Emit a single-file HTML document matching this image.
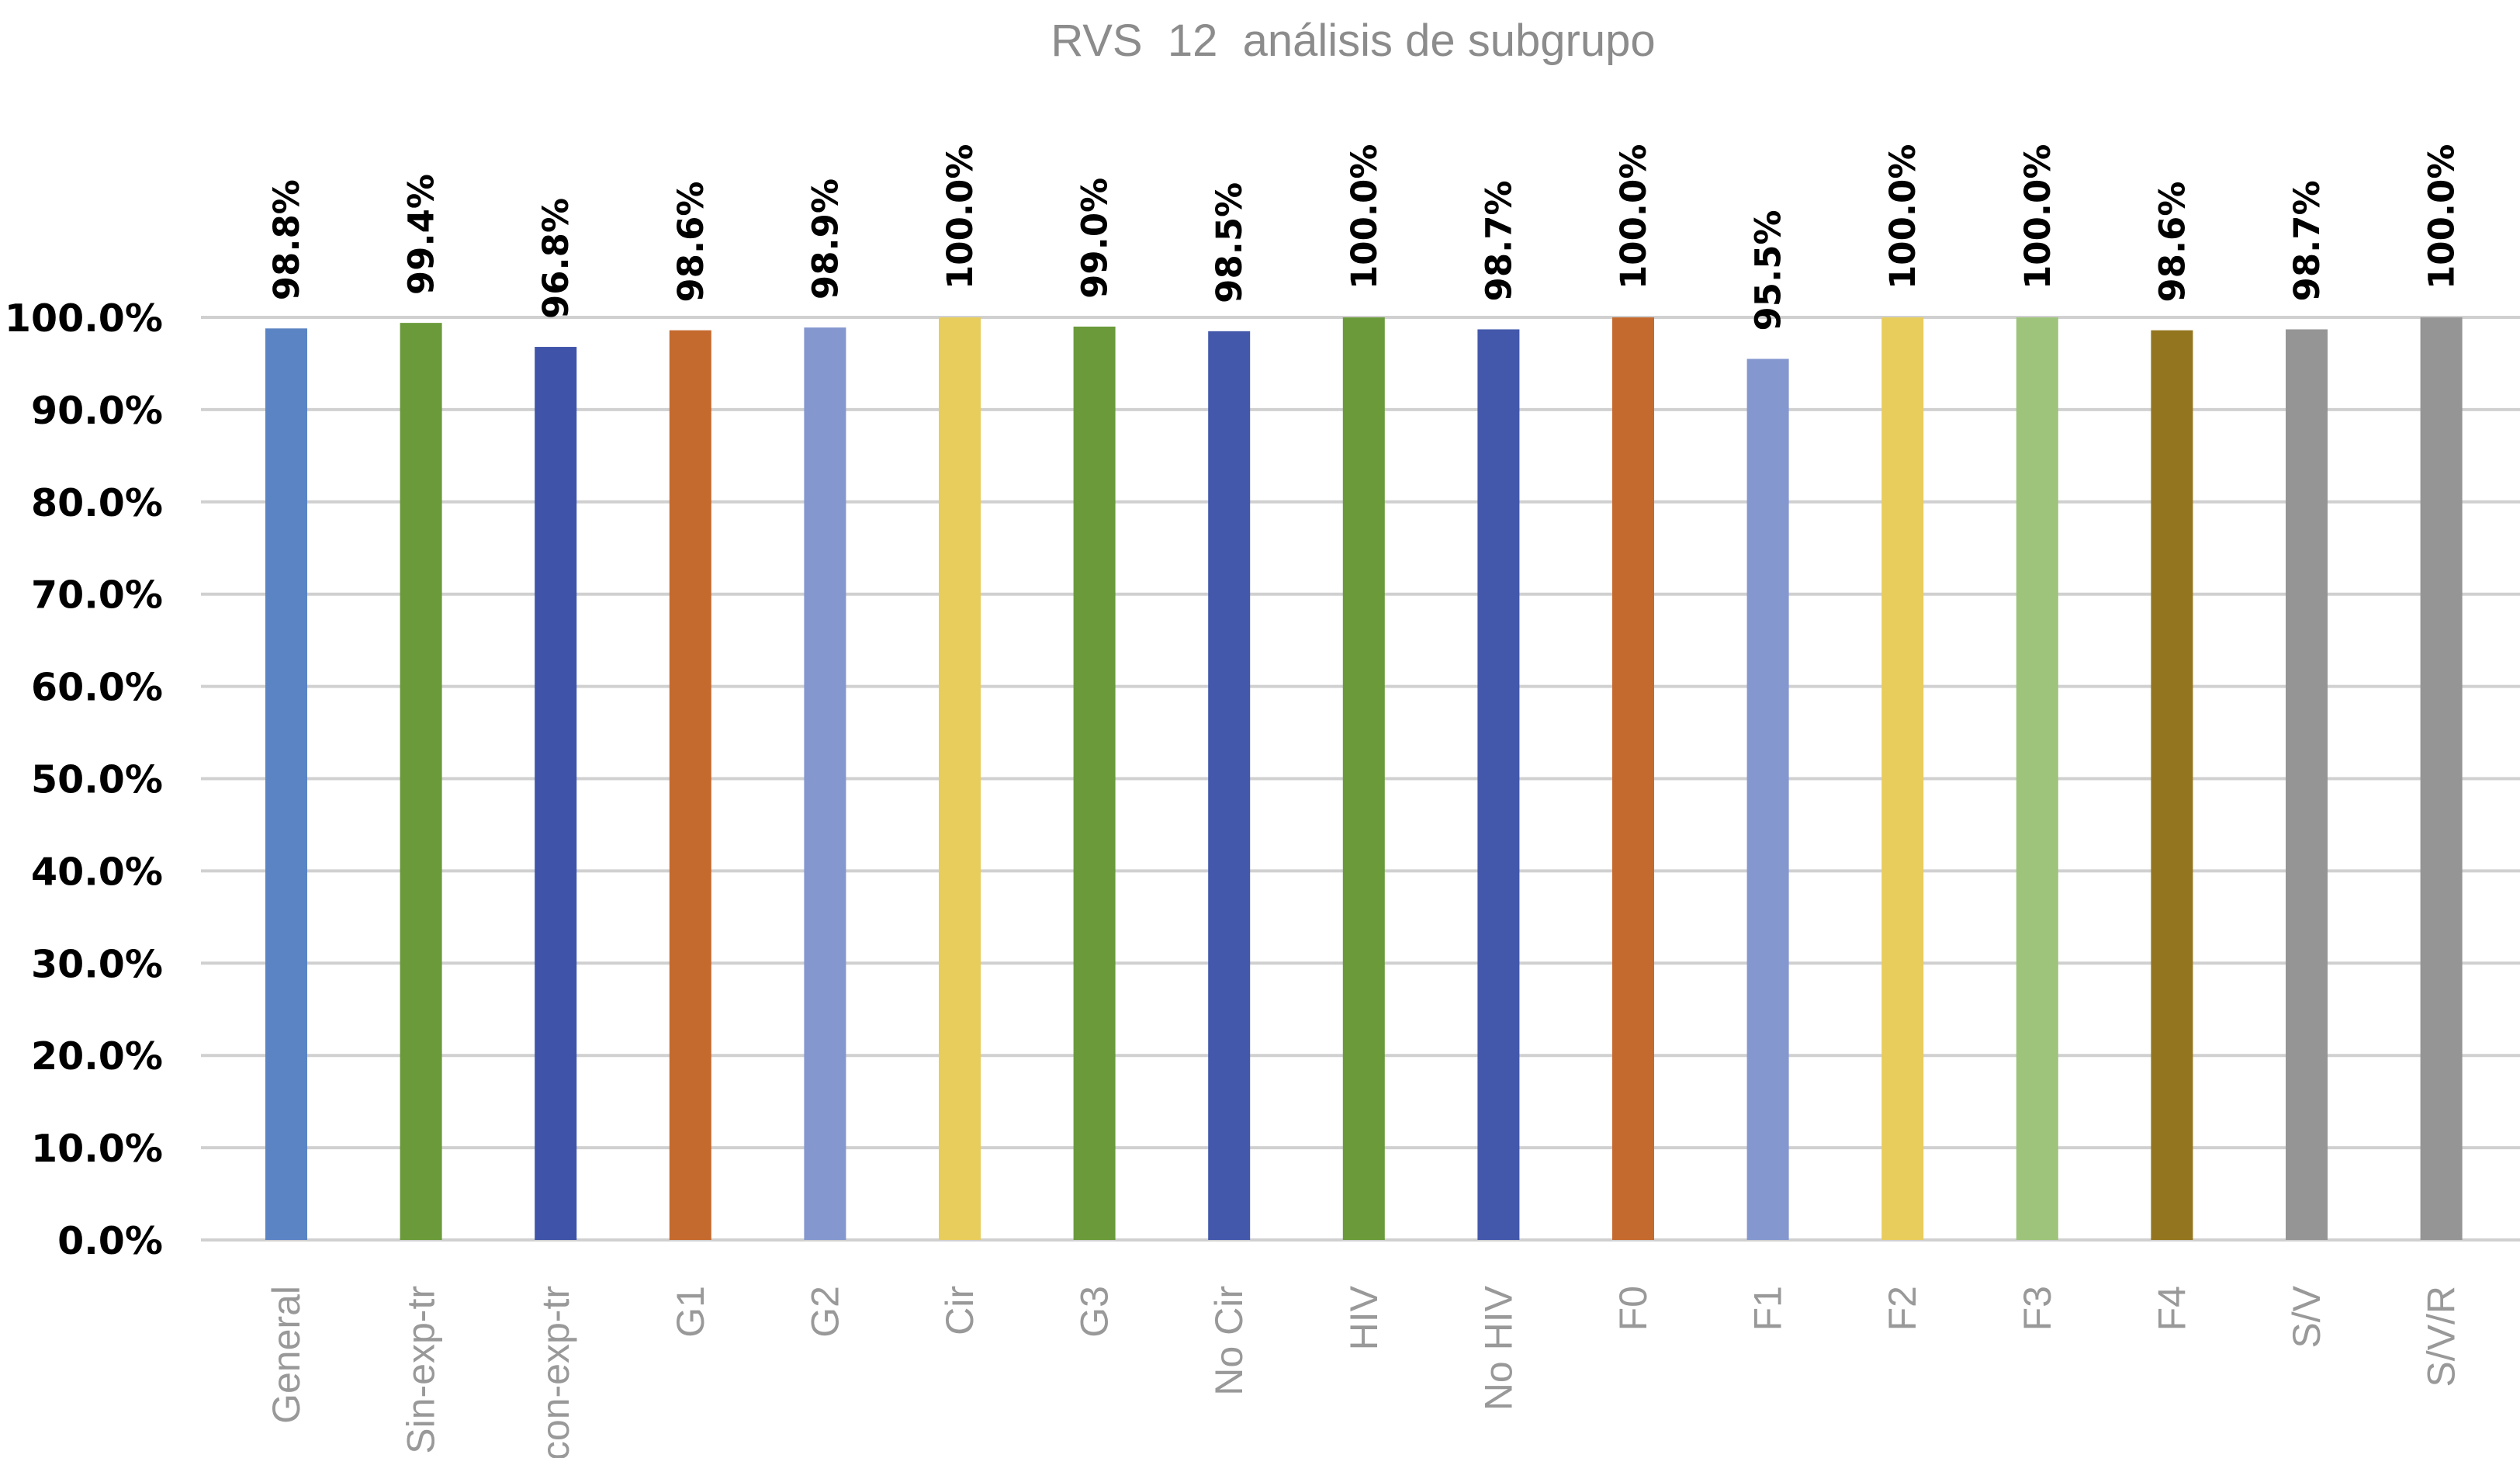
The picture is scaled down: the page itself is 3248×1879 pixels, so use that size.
<!DOCTYPE html>
<html><head><meta charset="utf-8"><style>
html,body{margin:0;padding:0;background:#fff;}
svg{display:block;}
</style></head><body>
<svg id="chart" width="3248" height="1879" viewBox="0 0 3248 1879" xmlns="http://www.w3.org/2000/svg">
<rect width="3248" height="1879" fill="#fff"/>
<text x="1744" y="72" text-anchor="middle" font-family="Liberation Sans, sans-serif" font-size="58" fill="#8c8c8c" style="white-space:pre" xml:space="preserve">RVS  12  análisis de subgrupo</text>
<g id="grid"></g><g id="bars"></g><g id="labels"></g>
</svg>
<script>
const categories = ["General","Sin-exp-tr","con-exp-tr","G1","G2","Cir","G3","No Cir","HIV","No HIV","F0","F1","F2","F3","F4","S/V","S/V/R"];
const values = [98.8,99.4,96.8,98.6,98.9,100.0,99.0,98.5,100.0,98.7,100.0,95.5,100.0,100.0,98.6,98.7,100.0];
const colors = ["#5b84c4","#6a9a3a","#3f54a8","#c46a2e","#8497cf","#e8cd5c","#6a9a3a","#4358ab","#6a9a3a","#4358ab","#c46a2e","#8497cf","#e8cd5c","#9dc47a","#937520","#959595","#959595"];
const ticks = [0,10,20,30,40,50,60,70,80,90,100];
const tickLabels = ["0.0%","10.0%","20.0%","30.0%","40.0%","50.0%","60.0%","70.0%","80.0%","90.0%","100.0%"];

const NS="http://www.w3.org/2000/svg";
const y0=1598, y100=409, x0=369, step=173.6, bw=54;
const y=v=>y0-(v/100)*(y0-y100);
const x=i=>x0+i*step;
function mk(tag,attrs,parent){const e=document.createElementNS(NS,tag);for(const k in attrs)e.setAttribute(k,attrs[k]);parent.appendChild(e);return e;}
const grid=document.getElementById('grid'),bars=document.getElementById('bars'),labels=document.getElementById('labels');
ticks.forEach((t,i)=>{
  const l=mk('line',{x1:259,x2:3248,y1:y(t),y2:y(t),stroke:'#d0d0d0','stroke-width':4},grid);
  
  
  const tx=mk('text',{x:210,y:y(t)+18,'text-anchor':'end','font-family':'DejaVu Sans, sans-serif','font-weight':'bold','font-size':49,fill:'#000'},grid);
  tx.textContent=tickLabels[i];
  
  
});
categories.forEach((c,i)=>{
  const cx=x(i);
  const r=mk('rect',{x:cx-bw/2,y:y(values[i]),width:bw,height:y0-y(values[i]),fill:colors[i]},bars);
  
  
  const vy=y(values[i])-36;
  const vt=mk('text',{x:cx+16,y:vy,transform:`rotate(-90 ${cx+16} ${vy})`,'font-family':'DejaVu Sans, sans-serif','font-weight':'bold','font-size':45,fill:'#000'},labels);
  vt.textContent=values[i].toFixed(1)+'%';
  
  
  const ly=1657;
  const ct=mk('text',{x:cx+17,y:ly,transform:`rotate(-90 ${cx+17} ${ly})`,'text-anchor':'end','font-family':'Liberation Sans, sans-serif','font-size':50,fill:'#999'},labels);
  ct.textContent=c;
  
  
});
</script>
</body></html>
